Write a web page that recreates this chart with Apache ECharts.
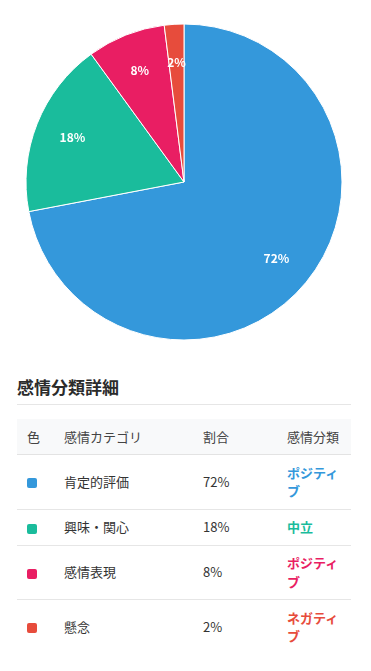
<!DOCTYPE html>
<html lang="ja">
<head>
<meta charset="utf-8">
<script src="https://cdn.jsdelivr.net/npm/echarts@6/dist/echarts.min.js"></script>
<style>
  html, body { margin: 0; padding: 0; background: #fff; }
  body { width: 371px; height: 671px; position: relative; overflow: hidden;
         font-family: "Noto Sans CJK JP", "Noto Sans", sans-serif; color: #333; }
  #chart { position: absolute; left: 0; top: 0; width: 371px; height: 360px; }
  #detail { position: absolute; left: 17px; top: 375px; width: 334px; }
  #detail h3 { margin: 0; font-size: 17px; font-weight: bold; line-height: 24px;
               padding-bottom: 5px; border-bottom: 1px solid #e6e6e6; color: #2b2b2b; }
  table { margin-top: 14px; width: 334px; border-collapse: collapse; table-layout: fixed; font-size: 13px; }
  th, td { text-align: left; padding: 8.5px 10px; line-height: 18.2px; vertical-align: middle; }
  th { background: #f8f9fa; font-weight: normal; color: #444; border-bottom: 1px solid #e3e3e3; }
  td { color: #333; border-bottom: 1px solid #e6e6e6; }
  tr:last-child td { border-bottom: none; }
  .sw { display: inline-block; width: 10px; height: 10px; border-radius: 2px; vertical-align: middle; }
  .st { font-weight: bold; }
</style>
</head>
<body>
<div id="chart"></div>
<div id="detail">
  <h3 id="title"></h3>
  <table>
    <colgroup><col style="width:37px"><col style="width:139px"><col style="width:84px"><col style="width:74px"></colgroup>
    <thead><tr id="head"></tr></thead>
    <tbody id="body"></tbody>
  </table>
</div>
<script>
// ---- data ----
const categories = ['肯定的評価', '興味・関心', '感情表現', '懸念'];
const values = [72, 18, 8, 2];
const sentiments = ['ポジティブ', '中立', 'ポジティブ', 'ネガティブ'];
const headers = ['色', '感情カテゴリ', '割合', '感情分類'];
const tableTitle = '感情分類詳細';
// ---- styles ----
const colors = ['#3498db', '#1abc9c', '#e91e63', '#e74c3c'];

const pieData = categories.map((c, i) => ({ name: c, value: values[i] }));
const total = values.reduce((a, b) => a + b, 0);

const chart = echarts.init(document.getElementById('chart'), null, { renderer: 'canvas' });
chart.setOption({
  animation: false,
  color: colors,
  series: [
    {
      type: 'pie',
      center: [184, 182],
      radius: [0, 158],
      startAngle: 90,
      clockwise: true,
      silent: true,
      data: pieData,
      itemStyle: { borderColor: '#fff', borderWidth: 1 },
      label: { show: false },
      labelLine: { show: false }
    },
    {
      type: 'pie',
      center: [184, 182],
      radius: [76, 158],
      startAngle: 90,
      clockwise: true,
      silent: true,
      data: pieData,
      itemStyle: { color: 'rgba(0,0,0,0)', borderWidth: 0 },
      label: {
        show: true,
        position: 'inside',
        color: '#fff',
        fontSize: 12,
        fontWeight: 'bold',
        fontFamily: '"Noto Sans CJK JP", "Noto Sans", sans-serif',
        formatter: p => Math.round(p.value / total * 100) + '%'
      },
      labelLine: { show: false }
    }
  ]
});

document.getElementById('title').textContent = tableTitle;
document.getElementById('head').innerHTML = headers.map(h => '<th>' + h + '</th>').join('');
document.getElementById('body').innerHTML = categories.map((c, i) =>
  '<tr><td><span class="sw" style="background:' + colors[i] + '"></span></td>' +
  '<td>' + c + '</td>' +
  '<td>' + values[i] + '%</td>' +
  '<td class="st" style="color:' + colors[i] + '">' + sentiments[i] + '</td></tr>'
).join('');
</script>
</body>
</html>
